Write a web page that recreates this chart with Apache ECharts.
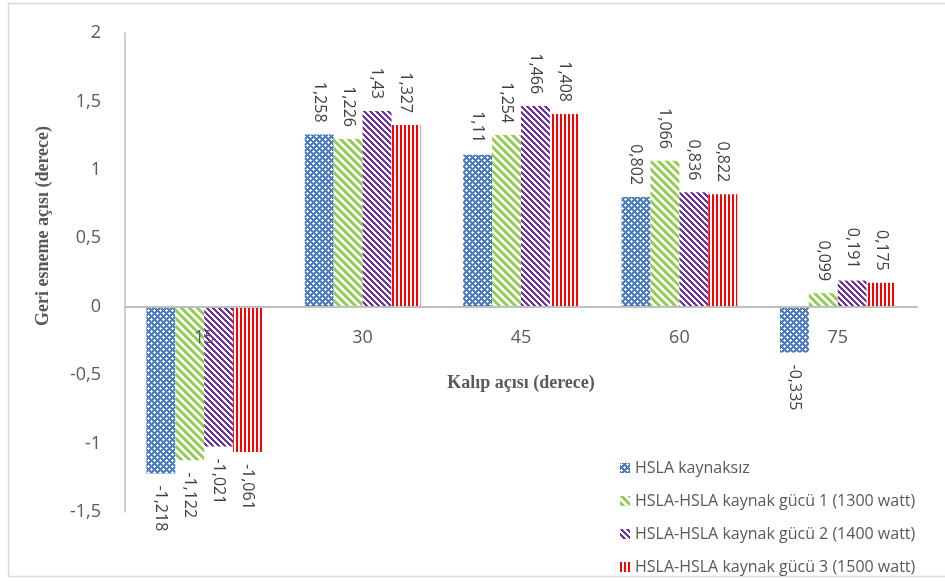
<!DOCTYPE html>
<html>
<head>
<meta charset="utf-8">
<script src="https://cdn.jsdelivr.net/npm/echarts@6/dist/echarts.min.js"></script>
<style>
  html, body { margin: 0; padding: 0; background: #fff; }
  #chart { width: 945px; height: 581px; }
</style>
</head>
<body>
<div id="chart"></div>
<script>
// Mould angles (categories) and spring-back angles for each specimen group
const categories = ['15', '30', '45', '60', '75'];
const seriesNames = [
  'HSLA kaynaksız',
  'HSLA-HSLA kaynak gücü 1 (1300 watt)',
  'HSLA-HSLA kaynak gücü 2 (1400 watt)',
  'HSLA-HSLA kaynak gücü 3 (1500 watt)'
];
const kaynaksiz = [-1.218, 1.258, 1.11, 0.802, -0.335];
const guc1300 = [-1.122, 1.226, 1.254, 1.066, 0.099];
const guc1400 = [-1.021, 1.43, 1.466, 0.836, 0.191];
const guc1500 = [-1.061, 1.327, 1.408, 0.822, 0.175];
const yTicks = { min: -1.5, max: 2, interval: 0.5 };

const toComma = v => String(v).replace('.', ',');

// Plot area
const GRID = { left: 125, right: 28, top: 33, bottom: 69 };
const plotHeight = 581 - GRID.top - GRID.bottom;
// distance from the bottom edge of the plot up to the zero line
const zeroLift = plotHeight * (0 - yTicks.min) / (yTicks.max - yTicks.min);

// Pixel tile helper: paint(x, y) returns true where the foreground colour goes
function makeTile(size, color, paint) {
  const c = document.createElement('canvas');
  c.width = size; c.height = size;
  const ctx = c.getContext('2d');
  ctx.fillStyle = '#ffffff';
  ctx.fillRect(0, 0, size, size);
  ctx.fillStyle = color;
  for (let y = 0; y < size; y++) {
    for (let x = 0; x < size; x++) {
      if (paint(x, y)) ctx.fillRect(x, y, 1, 1);
    }
  }
  return { image: c, repeat: 'repeat' };
}

// Blue: solid with small white crosses
const bluePattern = makeTile(6, '#4a7cc1', (x, y) => {
  const cross = (cx, cy) => (x === cx && Math.abs(y - cy) <= 1) || (y === cy && Math.abs(x - cx) <= 1);
  return !(cross(1, 1) || cross(4, 4));
});
// Green: wide downward diagonal
const greenPattern = makeTile(8, '#92d050', (x, y) => ((x - y) % 8 + 8) % 8 < 4);
// Purple: narrower downward diagonal
const purplePattern = makeTile(6, '#7030a0', (x, y) => ((x - y) % 6 + 6) % 6 < 3);
// Red: vertical stripes
const redPattern = makeTile(4, '#ff0000', (x, y) => x % 4 < 2);

const patterns = [bluePattern, greenPattern, purplePattern, redPattern];
const values = [kaynaksiz, guc1300, guc1400, guc1500];

function buildData(arr) {
  return arr.map(v => ({
    value: v,
    label: v >= 0
      ? { position: 'top', align: 'right', verticalAlign: 'middle' }
      : { position: 'bottom', align: 'left', verticalAlign: 'middle' }
  }));
}

const chart = echarts.init(document.getElementById('chart'), null, { renderer: 'canvas' });

chart.setOption({
  backgroundColor: '#ffffff',
  animation: false,
  grid: {
    left: GRID.left, right: GRID.right, top: GRID.top, bottom: GRID.bottom,
    containLabel: false,
    outerBoundsMode: 'none'
  },
  xAxis: {
    type: 'category',
    data: categories,
    position: 'bottom',
    offset: -zeroLift,
    z: 10,
    axisLine: { onZero: false, lineStyle: { color: '#bfbfbf', width: 2 } },
    axisTick: { show: false },
    axisLabel: { color: '#595959', fontSize: 18, fontFamily: 'Open Sans', margin: 22, interval: 0 },
    name: 'Kalıp açısı (derece)',
    nameLocation: 'middle',
    nameGap: 68,
    nameTextStyle: { color: '#595959', fontSize: 18, fontWeight: 'bold', fontFamily: 'Liberation Serif' }
  },
  yAxis: {
    type: 'value',
    min: yTicks.min,
    max: yTicks.max,
    interval: yTicks.interval,
    axisLine: { show: true, lineStyle: { color: '#bfbfbf', width: 1.5 } },
    axisTick: { show: false },
    splitLine: { show: false },
    axisLabel: {
      color: '#595959', fontSize: 18, fontFamily: 'Open Sans', margin: 24,
      formatter: v => toComma(v)
    }
  },
  legend: {
    orient: 'vertical',
    left: 615,
    top: 455,
    itemWidth: 10,
    itemHeight: 10,
    itemGap: 17,
    icon: 'rect',
    textStyle: { color: '#595959', fontSize: 16, fontFamily: 'Open Sans' },
    data: seriesNames
  },
  graphic: [
    {
      type: 'rect',
      shape: { x: 8.5, y: 3.5, width: 945, height: 573 },
      style: { fill: 'none', stroke: '#d9d9d9', lineWidth: 1.5 },
      silent: true
    },
    {
      type: 'text',
      x: 43,
      y: 226,
      rotation: Math.PI / 2,
      style: {
        text: 'Geri esneme açısı (derece)',
        fill: '#595959',
        font: 'bold 18px "Liberation Serif"',
        textAlign: 'center',
        textVerticalAlign: 'middle'
      }
    }
  ],
  series: values.map((arr, i) => ({
    name: seriesNames[i],
    type: 'bar',
    data: buildData(arr),
    barGap: '0%',
    barCategoryGap: '27%',
    itemStyle: { color: patterns[i] },
    label: {
      show: true,
      rotate: -90,
      distance: 12,
      color: '#404040',
      fontSize: 16,
      fontFamily: 'Open Sans',
      formatter: p => toComma(p.value)
    }
  }))
});
</script>
</body>
</html>
